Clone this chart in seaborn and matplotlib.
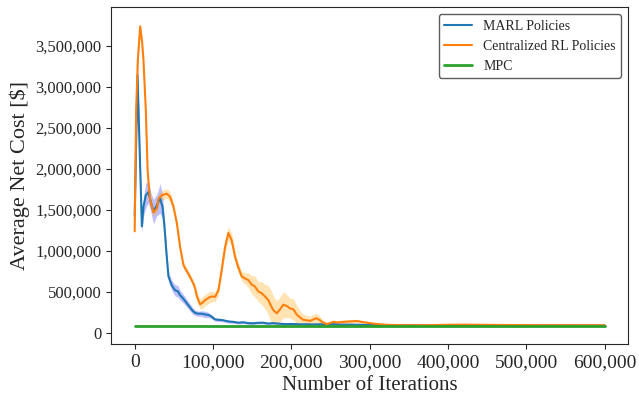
import numpy as np
import pandas as pd
import matplotlib
matplotlib.use("Agg")
import matplotlib.pyplot as plt
import seaborn as sns
from matplotlib.ticker import StrMethodFormatter, MultipleLocator

sns.set_style("ticks")
plt.rcParams['font.family'] = ['Liberation Serif', 'DejaVu Serif']

# ---- MARL policies (mean and CI half-width) ----
marl_iter = [0, 3600, 9200, 11200, 14200, 17600, 21000, 24000, 28300, 32500,
             35500, 38000, 40500, 43100, 47400, 51600, 55000, 58000, 61000, 64400,
             67500, 70800, 74000, 77100, 81000, 85700, 90000, 94100, 98000, 102600,
             107000, 111100, 115000, 119600, 126000, 132300, 138700, 145000, 151500, 157000,
             164300, 170000, 177000, 185500, 193000, 202500, 211000, 219500, 228000, 236000,
             245000, 253500, 262000, 270500, 280000, 290000, 300000, 315000, 330000, 345000,
             360000, 380000, 400000, 420000, 440000, 460000, 480000, 500000, 520000, 540000,
             560000, 580000, 600000]
marl_cost = [1430000, 3146000, 1300000, 1540000, 1680000, 1720000, 1580000, 1480000, 1560000, 1640000,
             1540000, 1300000, 980000, 690000, 580000, 520000, 510000, 460000, 430000, 390000,
             350000, 310000, 270000, 245000, 235000, 235000, 225000, 220000, 200000, 165000,
             160000, 158000, 150000, 140000, 135000, 125000, 130000, 120000, 118000, 124000,
             125000, 115000, 120000, 112000, 108000, 110000, 105000, 106000, 104000, 106000,
             103000, 108000, 102000, 101000, 100000, 99000, 98000, 97000, 97000, 95000,
             94000, 94000, 93000, 93000, 93000, 93000, 92000, 92000, 92000, 92000,
             92000, 92000, 92000]
marl_err = [150000, 200000, 80000, 120000, 150000, 130000, 120000, 150000, 130000, 180000,
            150000, 100000, 80000, 60000, 60000, 70000, 70000, 60000, 55000, 50000,
            45000, 45000, 40000, 35000, 30000, 35000, 40000, 30000, 25000, 20000,
            20000, 18000, 18000, 18000, 16000, 16000, 16000, 15000, 15000, 15000,
            15000, 14000, 14000, 12000, 12000, 12000, 10000, 10000, 10000, 10000,
            9000, 9000, 8000, 8000, 7000, 6000, 5000, 4000, 4000, 3000,
            3000, 3000, 3000, 3000, 3000, 3000, 3000, 3000, 3000, 3000,
            3000, 3000, 3000]

# ---- Centralized RL policies ----
crl_iter = [0, 1900, 4000, 7000, 9500, 11200, 14200, 16500, 18000, 19800,
            24000, 28300, 30400, 34600, 38000, 41000, 45300, 49500, 53800, 58000,
            62200, 65500, 68600, 72000, 75000, 77100, 79300, 83500, 86500, 89900,
            93000, 96300, 99500, 102600, 106900, 111100, 115400, 119600, 123900, 128100,
            132300, 136600, 140900, 145100, 149400, 153600, 157900, 162100, 166400, 170600,
            174000, 177000, 181300, 185000, 189700, 194000, 198300, 202500, 206800, 211000,
            215200, 219500, 223800, 228000, 232300, 236500, 240700, 245000, 249300, 253500,
            257800, 264000, 270500, 277000, 283300, 290000, 296000, 302000, 308800, 315000,
            320000, 330000, 345000, 360000, 380000, 400000, 420000, 440000, 460000, 480000,
            500000, 520000, 540000, 560000, 580000, 600000]
crl_cost = [1240000, 2720000, 3330000, 3740000, 3550000, 3330000, 2720000, 1990000, 1800000, 1620000,
            1470000, 1520000, 1640000, 1680000, 1690000, 1700000, 1660000, 1540000, 1340000, 1050000,
            830000, 770000, 720000, 660000, 600000, 545000, 450000, 350000, 370000, 400000,
            420000, 440000, 445000, 440000, 520000, 770000, 1050000, 1220000, 1130000, 930000,
            800000, 690000, 665000, 645000, 590000, 565000, 505000, 485000, 445000, 400000,
            330000, 280000, 240000, 280000, 345000, 330000, 300000, 290000, 225000, 190000,
            160000, 155000, 146000, 165000, 180000, 155000, 126000, 108000, 120000, 135000,
            128000, 132000, 138000, 142000, 146000, 135000, 126000, 118000, 110000, 104000,
            100000, 97000, 95000, 95000, 96000, 100000, 102000, 100000, 98000, 97000,
            96000, 95000, 95000, 94000, 94000, 94000]
crl_err = [100000, 80000, 60000, 40000, 50000, 50000, 50000, 50000, 50000, 50000,
           50000, 50000, 60000, 60000, 60000, 60000, 60000, 50000, 50000, 40000,
           40000, 40000, 40000, 40000, 40000, 50000, 60000, 60000, 70000, 70000,
           70000, 70000, 60000, 60000, 60000, 70000, 80000, 80000, 80000, 70000,
           60000, 60000, 70000, 90000, 110000, 130000, 120000, 140000, 150000, 180000,
           190000, 170000, 150000, 150000, 160000, 140000, 120000, 130000, 110000, 80000,
           70000, 60000, 55000, 60000, 60000, 45000, 30000, 25000, 25000, 25000,
           25000, 25000, 25000, 25000, 20000, 15000, 12000, 10000, 10000, 8000,
           6000, 5000, 4000, 4000, 4000, 4000, 4000, 4000, 4000, 4000,
           4000, 4000, 4000, 4000, 4000, 4000]

# ---- MPC baseline ----
mpc_iter = [0, 600000]
mpc_cost = [90000, 90000]

marl = pd.DataFrame({"iter": marl_iter, "cost": marl_cost, "err": marl_err})
crl = pd.DataFrame({"iter": crl_iter, "cost": crl_cost, "err": crl_err})
mpc = pd.DataFrame({"iter": mpc_iter, "cost": mpc_cost})

fig, ax = plt.subplots(figsize=(6.39, 3.99), dpi=100)
fig.subplots_adjust(left=0.174, right=0.983, top=0.982, bottom=0.138)

sns.lineplot(data=marl, x="iter", y="cost", ax=ax, color="#1f77b4", linewidth=1.5, label="MARL Policies")
ax.fill_between(marl["iter"], marl["cost"] - marl["err"], marl["cost"] + marl["err"],
                color="blue", alpha=0.25, linewidth=0)
sns.lineplot(data=crl, x="iter", y="cost", ax=ax, color="#ff7f0e", linewidth=1.5, label="Centralized RL Policies")
ax.fill_between(crl["iter"], crl["cost"] - crl["err"], crl["cost"] + crl["err"],
                color="orange", alpha=0.3, linewidth=0)
sns.lineplot(data=mpc, x="iter", y="cost", ax=ax, color="#2ca02c", linewidth=2, label="MPC")

ax.set_xlim(-30000, 630000)
ax.set_ylim(-134000, 3975000)
ax.yaxis.set_major_locator(MultipleLocator(500000))
ax.xaxis.set_major_formatter(StrMethodFormatter('{x:,.0f}'))
ax.yaxis.set_major_formatter(StrMethodFormatter('{x:,.0f}'))
ax.tick_params(axis="x", labelsize=14)
ax.tick_params(axis="y", labelsize=12)
ax.set_xlabel("Number of Iterations", fontsize=15)
ax.set_ylabel("Average Net Cost [$]", fontsize=16)

leg = ax.legend(loc="upper right", fontsize=10, frameon=True)
leg.get_frame().set_edgecolor("0.2")

fig.savefig("out.png", dpi=100)
